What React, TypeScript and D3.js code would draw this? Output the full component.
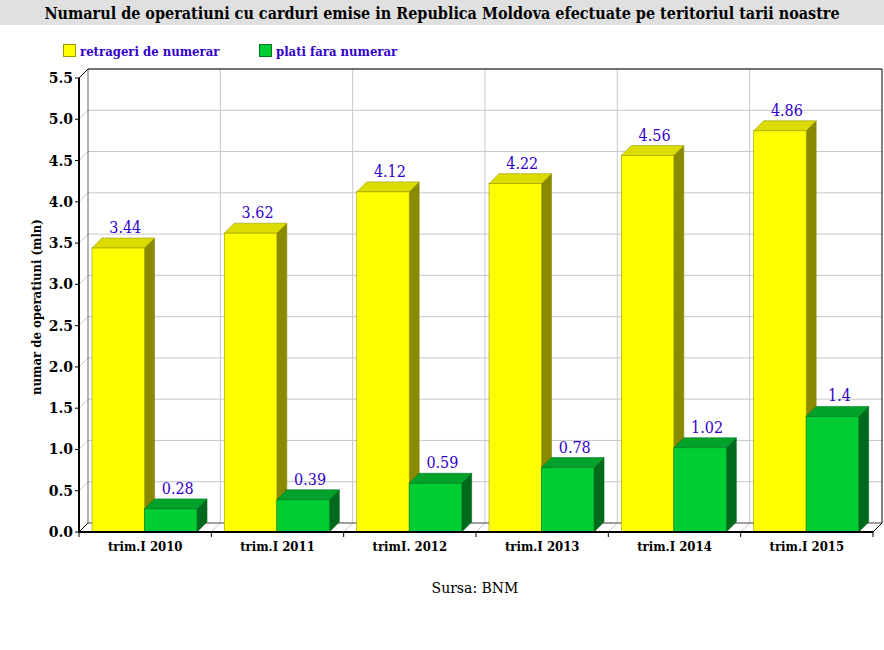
import * as d3 from "d3";

const categories = ["trim.I 2010", "trim.I 2011", "trimI. 2012", "trim.I 2013", "trim.I 2014", "trim.I 2015"];
const retrageri = [3.44, 3.62, 4.12, 4.22, 4.56, 4.86];
const plati = [0.28, 0.39, 0.59, 0.78, 1.02, 1.4];
const retrageriLabels = ["3.44", "3.62", "4.12", "4.22", "4.56", "4.86"];
const platiLabels = ["0.28", "0.39", "0.59", "0.78", "1.02", "1.4"];
const yTicks = [0, 0.5, 1, 1.5, 2, 2.5, 3, 3.5, 4, 4.5, 5, 5.5];

const W = 884;
const H = 650;
// front plot frame
const left = 79;
const right = 873;
const top = 78;
const bottom = 532;
// 3D depth offset of the back wall
const dx = 9;
const dy = -9;
const barDx = 10;
const barDy = -10;

const serif = "DejaVu Serif, serif";
const condensed = "DejaVu Serif Condensed, DejaVu Serif, serif";
const labelBlue = "#3300cc";

const series = [
  { name: "retrageri de numerar", values: retrageri, labels: retrageriLabels, front: "#ffff00", topC: "#dcdc00", side: "#8a8a00", stroke: "#9a9a00" },
  { name: "plati fara numerar", values: plati, labels: platiLabels, front: "#00cc33", topC: "#00a22a", side: "#006a1c", stroke: "#007a22" },
];

export default function App() {
  const x = d3.scaleBand<string>().domain(categories).range([left, right]);
  const y = d3.scaleLinear().domain([0, 5.5]).range([bottom, top]);
  const bw = 52.5;
  const groupOffset = 13;

  return (
    <svg width={W} height={H} style={{ display: "block", position: "absolute", left: 0, top: 0, fontFamily: serif }}>
      <rect x={0} y={0} width={W} height={H} fill="#ffffff" />
      {/* title band */}
      <rect x={0} y={0} width={W} height={25} fill="#e0e0e0" />
      <text
        x={W / 2}
        y={19}
        textAnchor="middle"
        fontSize={16}
        fontWeight="bold"
        fill="#000"
        style={{ fontFamily: condensed, fontStretch: "condensed" }}
      >
        Numarul de operatiuni cu carduri emise in Republica Moldova efectuate pe teritoriul tarii noastre
      </text>

      {/* legend */}
      {series.map((s, i) => (
        <g key={s.name} transform={`translate(${63 + i * 196},44)`}>
          <rect x={0.5} y={0.5} width={12} height={12} fill={s.front} stroke={s.stroke} />
          <text x={17} y={12} fontSize={13} fontWeight="bold" fill={labelBlue} style={{ fontFamily: condensed, fontStretch: "condensed" }}>
            {s.name}
          </text>
        </g>
      ))}

      {/* horizontal grid on back wall + left wall diagonals */}
      {yTicks.map((t) => (
        <g key={t}>
          <line x1={left + dx} x2={right + dx} y1={y(t) + dy} y2={y(t) + dy} stroke="#c8c8c8" />
          <line x1={left} x2={left + dx} y1={y(t)} y2={y(t) + dy} stroke="#c8c8c8" />
        </g>
      ))}
      {/* vertical grid on back wall + floor diagonals */}
      {categories.map((c, i) => {
        const bx = x(c) ?? 0;
        return (
          <g key={c}>
            {i > 0 && <line x1={bx + dx} x2={bx + dx} y1={top + dy} y2={bottom + dy} stroke="#c8c8c8" />}
            {i > 0 && <line x1={bx} x2={bx + dx} y1={bottom} y2={bottom + dy} stroke="#c8c8c8" />}
          </g>
        );
      })}

      {/* back wall border */}
      <line x1={left + dx} x2={right + dx} y1={top + dy} y2={top + dy} stroke="#000" />
      <line x1={right + dx} x2={right + dx} y1={top + dy} y2={bottom + dy} stroke="#000" />
      <line x1={left + dx} x2={left + dx} y1={top + dy} y2={bottom + dy} stroke="#000" strokeWidth={0.6} />
      <line x1={left + dx} x2={right + dx} y1={bottom + dy} y2={bottom + dy} stroke="#000" strokeWidth={0.6} />
      <line x1={left} x2={left + dx} y1={top} y2={top + dy} stroke="#000" />
      <line x1={right} x2={right + dx} y1={bottom} y2={bottom + dy} stroke="#000" />
      <line x1={left} x2={left + dx} y1={bottom} y2={bottom + dy} stroke="#000" />

      {/* bars */}
      {categories.map((c, i) => {
        const gx = (x(c) ?? 0) + groupOffset;
        return (
          <g key={c}>
            {series.map((s, j) => {
              const bx = gx + j * bw;
              const by = y(s.values[i]);
              const h = bottom - by;
              return (
                <g key={s.name}>
                  <polygon
                    points={`${bx + bw},${by} ${bx + bw + barDx},${by + barDy} ${bx + bw + barDx},${bottom + barDy} ${bx + bw},${bottom}`}
                    fill={s.side}
                    stroke={s.side}
                    strokeWidth={0.6}
                  />
                  <polygon
                    points={`${bx},${by} ${bx + barDx},${by + barDy} ${bx + bw + barDx},${by + barDy} ${bx + bw},${by}`}
                    fill={s.topC}
                    stroke={s.stroke}
                    strokeWidth={0.6}
                  />
                  <rect x={bx} y={by} width={bw} height={h} fill={s.front} stroke={s.stroke} strokeWidth={0.6} />
                  <text
                    x={bx + bw / 2 + barDx / 2 + 2}
                    y={by + barDy - 5}
                    textAnchor="middle"
                    fontSize={16}
                    fill={labelBlue}
                    style={{ fontFamily: condensed, fontStretch: "condensed" }}
                  >
                    {s.labels[i]}
                  </text>
                </g>
              );
            })}
          </g>
        );
      })}

      {/* axes */}
      <line x1={left} x2={left} y1={top} y2={bottom + 1} stroke="#000" strokeWidth={2} />
      <line x1={left - 1} x2={right} y1={bottom} y2={bottom} stroke="#000" strokeWidth={2} />
      {yTicks.map((t) => (
        <g key={t}>
          <line x1={left - 4} x2={left} y1={y(t)} y2={y(t)} stroke="#000" />
          <text x={left - 6} y={y(t) + 5} textAnchor="end" fontSize={14} fontWeight="bold" fill="#000">
            {t.toFixed(1)}
          </text>
        </g>
      ))}
      {categories.map((c, i) => {
        const bx = x(c) ?? 0;
        return (
          <g key={c}>
            <line x1={bx} x2={bx} y1={bottom} y2={bottom + 5} stroke="#000" />
            {i === categories.length - 1 && (
              <line x1={right} x2={right} y1={bottom} y2={bottom + 5} stroke="#000" />
            )}
            <text
              x={bx + x.bandwidth() / 2}
              y={551}
              textAnchor="middle"
              fontSize={13}
              fontWeight="bold"
              fill="#000"
              style={{ fontFamily: condensed, fontStretch: "condensed" }}
            >
              {c}
            </text>
          </g>
        );
      })}

      <text
        transform={`translate(41,${(top + bottom) / 2 + 2}) rotate(-90)`}
        textAnchor="middle"
        fontSize={13}
        fontWeight="bold"
        fill="#000"
        style={{ fontFamily: condensed, fontStretch: "condensed" }}
      >
        numar de operatiuni (mln)
      </text>

      <text x={475} y={593} textAnchor="middle" fontSize={14} fill="#000">
        Sursa: BNM
      </text>
    </svg>
  );
}
